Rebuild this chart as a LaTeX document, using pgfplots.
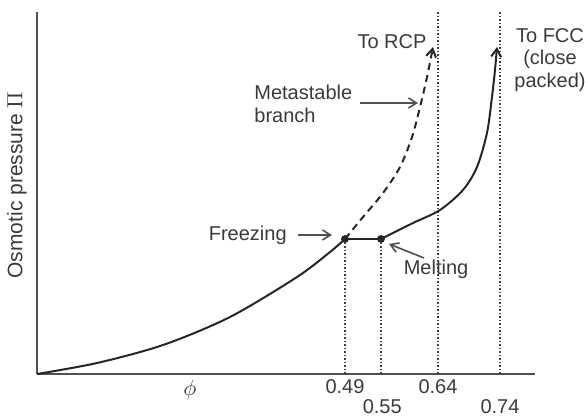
\documentclass[border=0pt]{standalone}
\usepackage{fontspec}
\setmainfont{Liberation Sans}
\usepackage{pgfplots}
\pgfplotsset{compat=1.18}
\usetikzlibrary{arrows.meta}
\definecolor{txt}{HTML}{3A3A3A}
\definecolor{crv}{HTML}{262626}
\definecolor{axc}{HTML}{505050}
\definecolor{dotc}{HTML}{404040}
\begin{document}
\begin{tikzpicture}
\begin{axis}[
  x=310pt, y=0.5pt,
  xmin=-0.0068, xmax=0.7965, ymin=0, ymax=362,
  axis x line=bottom, axis y line=left,
  axis line style={-, line width=1pt, color=axc},
  ytick=\empty,
  xtick={0.49,0.64}, xticklabels={0.49,0.64},
  extra x ticks={0.55,0.74}, extra x tick labels={0.55,0.74},
  extra x tick style={xticklabel style={yshift=-10pt}},
  xticklabel style={yshift=-1.5pt},
  major tick length=0pt,
  tick label style={font=\fontsize{10}{12}\selectfont, text=txt, inner sep=1pt},
  /pgf/number format/assume math mode=true,
  clip=false,
  enlargelimits=false,
]
% dotted guide lines
\addplot[densely dotted, line width=0.75pt, color=dotc] coordinates {(0.49,0) (0.49,135)};
\addplot[densely dotted, line width=0.75pt, color=dotc] coordinates {(0.548,0) (0.548,135)};
\addplot[densely dotted, line width=0.75pt, color=dotc] coordinates {(0.64,0) (0.64,362)};
\addplot[densely dotted, line width=0.75pt, color=dotc] coordinates {(0.74,0) (0.74,362)};
% fluid branch
\addplot[smooth, line width=1pt, color=crv] coordinates {(-0.0068,0) (0.09,11) (0.1965,29) (0.3045,57) (0.4126,97) (0.4658,122) (0.49,135)};
% coexistence plateau
\addplot[line width=1pt, color=crv] coordinates {(0.49,135) (0.548,135)};
% crystal branch
\addplot[smooth, line width=1pt, color=crv, -{Straight Barb[length=4pt,width=5pt]}] coordinates {(0.548,135) (0.5997,151) (0.6432,164) (0.6803,184) (0.7029,207) (0.719,241) (0.7271,277) (0.7319,304) (0.7352,327)};
% metastable branch
\addplot[smooth, line width=1pt, color=crv, dash pattern=on 3.5pt off 2.5pt, -{Straight Barb[length=4pt,width=5pt]}] coordinates {(0.49,135) (0.519,157) (0.5513,181) (0.5787,207) (0.5981,237) (0.611,267) (0.6223,297) (0.6319,327)};
% freezing / melting points
\addplot[only marks, mark=*, mark size=1.75pt, color=crv] coordinates {(0.49,135) (0.548,135)};

% labels
\node[font=\fontsize{10}{12}\selectfont, text=txt] at (axis cs:0.5658,332) {To RCP};
\node[font=\fontsize{10}{11.25}\selectfont, text=txt, align=center] at (axis cs:0.8206,314) {To FCC\\(close\\packed)};
\node[font=\fontsize{10}{11.5}\selectfont, text=txt, align=left, anchor=west, inner sep=0pt] at (axis cs:0.3432,270.5) {Metastable\\branch};
\draw[-{Straight Barb[length=4pt,width=5pt]}, line width=0.8pt, color=axc] (axis cs:0.5142,271) -- (axis cs:0.6077,271);
\node[font=\fontsize{10}{12}\selectfont, text=txt, anchor=east, inner sep=0pt] at (axis cs:0.3965,139) {Freezing};
\draw[-{Straight Barb[length=4pt,width=5pt]}, line width=0.8pt, color=axc] (axis cs:0.4142,139) -- (axis cs:0.469,139);
\node[font=\fontsize{10}{12}\selectfont, text=txt] at (axis cs:0.6368,105) {Melting};
\draw[-{Straight Barb[length=4pt,width=5pt]}, line width=0.8pt, color=axc] (axis cs:0.6174,116) -- (axis cs:0.561,130);
\node[font=\fontsize{10.5}{12}\selectfont, text=txt] at (axis cs:0.24,-16) {$\phi$};
\node[rotate=90, font=\fontsize{10.5}{12}\selectfont, text=txt] at (axis cs:-0.039,189) {Osmotic pressure $\Pi$};

\coordinate (bl) at (axis cs:-0.0665,-46);
\coordinate (tr) at (axis cs:0.8771,374);
\end{axis}
\pgfresetboundingbox
\useasboundingbox (bl) rectangle (tr);
\end{tikzpicture}
\end{document}
